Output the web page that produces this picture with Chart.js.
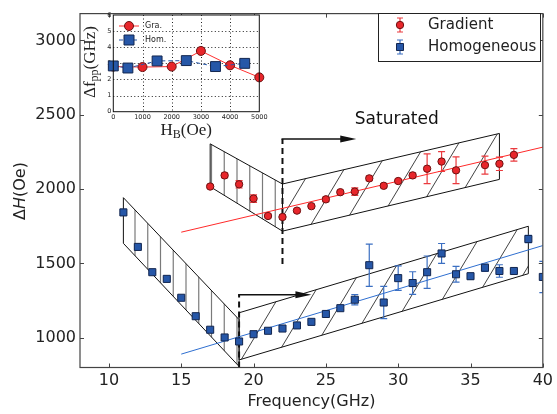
<!DOCTYPE html>
<html>
<head>
<meta charset="utf-8">
<script src="https://cdn.jsdelivr.net/npm/chart.js@4.4.0/dist/chart.umd.min.js"></script>
<style>
  body { margin: 0; background: #fff; }
  #wrap { position: relative; width: 557px; height: 414px; }
  #wrap canvas { position: absolute; left: 0; top: 0; }
</style>
</head>
<body>
<div id="wrap">
  <canvas id="mainChart" width="557" height="414"></canvas>
  <canvas id="insetChart" width="270" height="145"></canvas>
</div>
<script>
// ---- main chart data ----
const gradFreq = [17, 18, 19, 20, 21, 22, 23, 24, 25, 26, 27, 28, 29, 30, 31, 32, 33, 34, 36, 37, 38];
const gradDH   = [2017, 2092, 2032, 1936, 1819, 1812, 1855, 1885, 1931, 1979, 1983, 2072, 2022, 2054, 2092, 2137, 2185, 2126, 2161, 2170, 2230];
const gradErr  = [10, 15, 25, 25, 12, 15, 10, 12, 15, 12, 25, 15, 12, 12, 15, 100, 67, 90, 60, 45, 42];

const homFreq = [11, 12, 13, 14, 15, 16, 17, 18, 19, 20, 21, 22, 23, 24, 25, 26, 27, 28, 29, 30, 31, 32, 33, 34, 35, 36, 37, 38, 39, 40];
const homDH   = [1843, 1611, 1441, 1396, 1269, 1145, 1054, 1002, 975, 1024, 1047, 1062, 1083, 1107, 1160, 1199, 1256, 1488, 1237, 1401, 1368, 1441, 1567, 1427, 1414, 1471, 1449, 1449, 1664, 1409];
const homErr  = [8, 8, 8, 8, 8, 8, 8, 8, 8, 8, 8, 8, 8, 8, 15, 10, 35, 142, 108, 82, 76, 109, 67, 53, 20, 25, 42, 10, 25, 105];

// linear fits
const gradFitX = [15, 40];
const gradFitY = [1710, 2282];
const homFitX = [15, 40];
const homFitY = [890, 1620];

// hatched regions (freq, dH)
const gradPreRegion = [[17, 2304], [22, 2034], [22, 1717], [17, 2016]];
const gradSatRegion = [[22, 2034], [37, 2374], [37, 2065], [22, 1717]];
const homPreRegion  = [[11, 1942], [19, 1122], [19, 807], [11, 1635]];
const homSatRegion  = [[19, 1168], [39, 1750], [39, 1431], [19, 851]];

// saturation markers: dashed line at satX, arrow to satArrowEnd
const satX = [22, 19];
const satLow = [1496, 800];
const satHigh = [2336, 1289];
const satArrowEnd = [27.1, 24];
const satLabel = 'Saturated';
const satLabelPos = [27, 2435];

const xTicks = [10, 15, 20, 25, 30, 35, 40];
const yTicks = [1000, 1500, 2000, 2500, 3000];

// ---- inset data ----
const insetGraX = [0, 1000, 2000, 3000, 4000, 5000];
const insetGraY = [2.8, 2.77, 2.8, 3.77, 2.88, 2.13];
const insetHomX = [0, 500, 1500, 2500, 3500, 4500];
const insetHomY = [2.84, 2.71, 3.15, 3.17, 2.8, 3.0];
const insetXTicks = [0, 1000, 2000, 3000, 4000, 5000];
const insetYTicks = [0, 1, 2, 3, 4, 5, 6];

const RED = '#e8262b';
const RED_EDGE = '#6e1212';
const RED_BAR = '#ea3a3e';
const BLUE = '#2657a8';
const BLUE_EDGE = '#13264f';
const BLUE_BAR = '#3b6fc2';
const TXT = '#222';

Chart.defaults.font.family = 'DejaVu Sans';
Chart.defaults.color = TXT;

function toPts(xs, ys) {
    return xs.map((v, i) => ({ x: v, y: ys[i] }));
}

function polyPath(ctx, pts) {
    ctx.beginPath();
    pts.forEach((p, i) => i ? ctx.lineTo(p[0], p[1]) : ctx.moveTo(p[0], p[1]));
    ctx.closePath();
}

function drawRegion(ctx, pts, hatch) {
    ctx.save();
    polyPath(ctx, pts);
    ctx.clip();
    const xs = pts.map(p => p[0]), ys = pts.map(p => p[1]);
    const x0 = Math.min(...xs), x1 = Math.max(...xs);
    const y0 = Math.min(...ys), y1 = Math.max(...ys);
    ctx.beginPath();
    if (hatch === 'vertical') {
        ctx.strokeStyle = '#7a7a7a';
        ctx.lineWidth = 1.2;
        for (let hx = Math.floor(x0 / 12.75) * 12.75 + 7.5; hx <= x1; hx += 12.75) {
            ctx.moveTo(hx, y0);
            ctx.lineTo(hx, y1);
        }
    } else {
        ctx.strokeStyle = '#111';
        ctx.lineWidth = 0.8;
        const k = 0.6, h = y1 - y0;
        for (let c = Math.floor((x0 - h * k) / 33) * 33 + 10; c <= x1; c += 33) {
            ctx.moveTo(c, y1);
            ctx.lineTo(c + h * k, y0);
        }
    }
    ctx.stroke();
    ctx.restore();
    ctx.save();
    polyPath(ctx, pts);
    ctx.strokeStyle = '#111';
    ctx.lineWidth = 1;
    ctx.stroke();
    ctx.restore();
}

function drawErrBars(ctx, px, py, xs, ys, errs, color) {
    ctx.save();
    ctx.strokeStyle = color;
    ctx.lineWidth = 1.2;
    xs.forEach((v, i) => {
        const x = px(v), yt = py(ys[i] + errs[i]), yb = py(ys[i] - errs[i]);
        ctx.beginPath();
        ctx.moveTo(x, yt); ctx.lineTo(x, yb);
        ctx.moveTo(x - 3.5, yt); ctx.lineTo(x + 3.5, yt);
        ctx.moveTo(x - 3.5, yb); ctx.lineTo(x + 3.5, yb);
        ctx.stroke();
    });
    ctx.restore();
}

const mainDecor = {
    id: 'mainDecor',
    beforeDatasetsDraw(chart) {
        const { ctx, chartArea: a, scales } = chart;
        const px = v => scales.x.getPixelForValue(v);
        const py = v => scales.y.getPixelForValue(v);
        const conv = r => r.map(p => [px(p[0]), py(p[1])]);
        ctx.save();
        ctx.beginPath();
        ctx.rect(a.left, a.top, a.right - a.left, a.bottom - a.top);
        ctx.clip();

        drawRegion(ctx, conv(gradPreRegion), 'vertical');
        drawRegion(ctx, conv(gradSatRegion), 'diagonal');
        drawRegion(ctx, conv(homPreRegion), 'vertical');
        drawRegion(ctx, conv(homSatRegion), 'diagonal');

        // dashed markers + arrows
        satX.forEach((v, i) => {
            const x = px(v), yl = py(satLow[i]), yh = py(satHigh[i]);
            ctx.save();
            ctx.strokeStyle = '#111';
            ctx.lineWidth = 2;
            ctx.setLineDash([6, 4]);
            ctx.beginPath();
            ctx.moveTo(x, yl); ctx.lineTo(x, yh);
            ctx.stroke();
            ctx.setLineDash([]);
            const xe = px(satArrowEnd[i]);
            ctx.lineWidth = 1.5;
            ctx.beginPath();
            ctx.moveTo(x - 1, yh); ctx.lineTo(xe - 10, yh);
            ctx.stroke();
            ctx.fillStyle = '#111';
            ctx.beginPath();
            ctx.moveTo(xe, yh); ctx.lineTo(xe - 16, yh - 3.5); ctx.lineTo(xe - 16, yh + 3.5);
            ctx.closePath();
            ctx.fill();
            ctx.restore();
        });

        drawErrBars(ctx, px, py, gradFreq, gradDH, gradErr, RED_BAR);
        drawErrBars(ctx, px, py, homFreq, homDH, homErr, BLUE_BAR);
        ctx.restore();
    },
    afterDraw(chart) {
        const { ctx, chartArea: a, scales } = chart;
        const px = v => scales.x.getPixelForValue(v);
        const py = v => scales.y.getPixelForValue(v);
        ctx.save();
        // frame
        ctx.strokeStyle = '#444';
        ctx.lineWidth = 1.2;
        ctx.strokeRect(a.left, a.top, a.right - a.left, a.bottom - a.top);
        // inward ticks on all sides
        ctx.lineWidth = 1;
        ctx.beginPath();
        xTicks.forEach(v => {
            const x = Math.round(px(v)) + 0.5;
            ctx.moveTo(x, a.bottom); ctx.lineTo(x, a.bottom - 4);
            ctx.moveTo(x, a.top); ctx.lineTo(x, a.top + 4);
        });
        yTicks.forEach(v => {
            const y = Math.round(py(v)) + 0.5;
            ctx.moveTo(a.left, y); ctx.lineTo(a.left + 4, y);
            ctx.moveTo(a.right, y); ctx.lineTo(a.right - 4, y);
        });
        ctx.stroke();

        // Saturated label
        ctx.fillStyle = '#111';
        ctx.font = '17px "DejaVu Sans"';
        ctx.textAlign = 'left';
        ctx.textBaseline = 'alphabetic';
        ctx.fillText(satLabel, px(satLabelPos[0]), py(satLabelPos[1]));

        // axis titles
        ctx.fillStyle = TXT;
        ctx.font = '16px "DejaVu Sans"';
        ctx.textAlign = 'center';
        ctx.textBaseline = 'middle';
        ctx.fillText('Frequency(GHz)', (a.left + a.right) / 2, 402);

        ctx.save();
        ctx.translate(21, 191);
        ctx.rotate(-Math.PI / 2);
        const parts = [['Δ', '16px "DejaVu Sans"'], ['H', 'italic 16px "DejaVu Sans"'], ['(Oe)', '16px "DejaVu Sans"']];
        let total = 0;
        parts.forEach(p => { ctx.font = p[1]; total += ctx.measureText(p[0]).width; });
        let cx = -total / 2;
        ctx.textAlign = 'left';
        parts.forEach(p => { ctx.font = p[1]; ctx.fillText(p[0], cx, 0); cx += ctx.measureText(p[0]).width; });
        ctx.restore();

        // legend
        const lx = 378.5, ly = 13.5, lw = 162, lh = 48;
        ctx.fillStyle = '#fff';
        ctx.fillRect(lx, ly, lw, lh);
        ctx.strokeStyle = '#222';
        ctx.lineWidth = 1;
        ctx.strokeRect(lx, ly, lw, lh);
        const entries = [
            { label: 'Gradient', y: 25, bar: RED_BAR, fill: RED, edge: RED_EDGE, shape: 'circle' },
            { label: 'Homogeneous', y: 47, bar: BLUE_BAR, fill: BLUE, edge: BLUE_EDGE, shape: 'rect' }
        ];
        entries.forEach(e => {
            const mx = 400;
            ctx.strokeStyle = e.bar;
            ctx.lineWidth = 1.2;
            ctx.beginPath();
            ctx.moveTo(mx, e.y - 7); ctx.lineTo(mx, e.y + 7);
            ctx.moveTo(mx - 3, e.y - 7); ctx.lineTo(mx + 3, e.y - 7);
            ctx.moveTo(mx - 3, e.y + 7); ctx.lineTo(mx + 3, e.y + 7);
            ctx.stroke();
            ctx.fillStyle = e.fill;
            ctx.strokeStyle = e.edge;
            ctx.lineWidth = 1;
            ctx.beginPath();
            if (e.shape === 'circle') ctx.arc(mx, e.y, 3.7, 0, Math.PI * 2);
            else ctx.rect(mx - 3.5, e.y - 3.5, 7, 7);
            ctx.fill();
            ctx.stroke();
            ctx.fillStyle = TXT;
            ctx.font = '15px "DejaVu Sans"';
            ctx.textAlign = 'left';
            ctx.textBaseline = 'middle';
            ctx.fillText(e.label, 428, e.y);
        });
        ctx.restore();
    }
};

new Chart(document.getElementById('mainChart'), {
    type: 'scatter',
    data: {
        datasets: [
            {
                label: 'Gradient',
                data: toPts(gradFreq, gradDH),
                pointStyle: 'circle',
                pointRadius: 3.7,
                backgroundColor: RED,
                borderColor: RED_EDGE,
                borderWidth: 1
            },
            {
                label: 'Homogeneous',
                data: toPts(homFreq, homDH),
                pointStyle: 'rect',
                pointRadius: 5,
                backgroundColor: BLUE,
                borderColor: BLUE_EDGE,
                borderWidth: 1
            },
            {
                label: 'Gradient fit',
                data: toPts(gradFitX, gradFitY),
                showLine: true,
                pointRadius: 0,
                borderColor: '#ff2a2a',
                borderWidth: 1
            },
            {
                label: 'Homogeneous fit',
                data: toPts(homFitX, homFitY),
                showLine: true,
                pointRadius: 0,
                borderColor: '#2f6fd0',
                borderWidth: 1
            }
        ]
    },
    options: {
        responsive: false,
        animation: false,
        devicePixelRatio: 1,
        layout: { padding: { left: 0, right: 10, top: 6, bottom: 0 } },
        plugins: { legend: { display: false }, tooltip: { enabled: false } },
        scales: {
            x: {
                type: 'linear',
                min: 8,
                max: 40,
                afterBuildTicks: s => { s.ticks = xTicks.map(v => ({ value: v })); },
                afterFit: s => { s.height = 46.5; },
                grid: { display: false, drawTicks: false },
                border: { display: false },
                ticks: { font: { size: 16 }, color: TXT, padding: 4, maxRotation: 0, callback: v => String(v) }
            },
            y: {
                type: 'linear',
                min: 800,
                max: 3180,
                afterBuildTicks: s => { s.ticks = yTicks.map(v => ({ value: v })); },
                afterFit: s => { s.width = 80; },
                grid: { display: false, drawTicks: false },
                border: { display: false },
                ticks: { font: { size: 16 }, color: TXT, padding: 4, callback: v => String(v) }
            }
        }
    },
    plugins: [mainDecor]
});

// ---- inset ----
const insetDecor = {
    id: 'insetDecor',
    beforeDraw(chart) {
        const { ctx, chartArea: a } = chart;
        ctx.save();
        ctx.fillStyle = '#fff';
        ctx.fillRect(a.left, a.top, a.right - a.left, a.bottom - a.top);
        ctx.restore();
    },
    beforeDatasetsDraw(chart) {
        const { ctx, chartArea: a, scales } = chart;
        ctx.save();
        ctx.strokeStyle = '#222';
        ctx.lineWidth = 1;
        ctx.setLineDash([1, 2.5]);
        ctx.beginPath();
        insetXTicks.slice(1, -1).forEach(v => {
            const x = Math.round(scales.x.getPixelForValue(v)) + 0.5;
            ctx.moveTo(x, a.top); ctx.lineTo(x, a.bottom);
        });
        insetYTicks.slice(1, -1).forEach(v => {
            const y = Math.round(scales.y.getPixelForValue(v)) + 0.5;
            ctx.moveTo(a.left, y); ctx.lineTo(a.right, y);
        });
        ctx.stroke();
        ctx.restore();
    },
    afterDraw(chart) {
        const { ctx, chartArea: a } = chart;
        ctx.save();
        ctx.strokeStyle = '#111';
        ctx.lineWidth = 1;
        ctx.strokeRect(a.left, a.top, a.right - a.left, a.bottom - a.top);

        // legend
        const rows = [
            { label: 'Gra.', y: 26, color: RED, edge: RED_EDGE, dash: [], shape: 'circle' },
            { label: 'Hom.', y: 40, color: BLUE, edge: BLUE_EDGE, dash: [4, 3], shape: 'rect' }
        ];
        rows.forEach(r => {
            ctx.strokeStyle = r.shape === 'circle' ? '#ff3030' : BLUE;
            ctx.lineWidth = 1;
            ctx.setLineDash(r.dash);
            ctx.beginPath();
            ctx.moveTo(119, r.y); ctx.lineTo(139, r.y);
            ctx.stroke();
            ctx.setLineDash([]);
            ctx.fillStyle = r.color;
            ctx.strokeStyle = r.edge;
            ctx.beginPath();
            if (r.shape === 'circle') ctx.arc(129, r.y, 4.5, 0, Math.PI * 2);
            else ctx.rect(124, r.y - 5, 10, 10);
            ctx.fill();
            ctx.stroke();
            ctx.fillStyle = TXT;
            ctx.font = '8px "DejaVu Sans"';
            ctx.textAlign = 'left';
            ctx.textBaseline = 'middle';
            ctx.fillText(r.label, 145, r.y);
        });

        // axis labels (serif, with subscripts)
        const big = '17px "Liberation Serif"', small = '12px "Liberation Serif"';
        function rich(parts, cx, cy) {
            let total = 0;
            parts.forEach(p => { ctx.font = p[1]; total += ctx.measureText(p[0]).width; });
            let x = cx - total / 2;
            parts.forEach(p => {
                ctx.font = p[1];
                ctx.fillText(p[0], x, cy + p[2]);
                x += ctx.measureText(p[0]).width;
            });
        }
        ctx.fillStyle = TXT;
        ctx.textAlign = 'left';
        ctx.textBaseline = 'middle';
        rich([['H', big, 0], ['B', small, 4], ['(Oe)', big, 0]], (a.left + a.right) / 2, 131);

        ctx.save();
        ctx.translate(91, 62);
        ctx.rotate(-Math.PI / 2);
        rich([['Δf', big, 0], ['pp', small, 4], ['(GHz)', big, 0]], 0, 0);
        ctx.restore();
        ctx.restore();
    }
};

new Chart(document.getElementById('insetChart'), {
    type: 'scatter',
    data: {
        datasets: [
            {
                label: 'Hom.',
                data: toPts(insetHomX, insetHomY),
                showLine: true,
                borderDash: [4, 3],
                borderColor: BLUE,
                borderWidth: 1,
                pointStyle: 'rect',
                pointRadius: 7,
                pointBackgroundColor: BLUE,
                pointBorderColor: BLUE_EDGE,
                pointBorderWidth: 1
            },
            {
                label: 'Gra.',
                data: toPts(insetGraX, insetGraY),
                showLine: true,
                borderColor: '#ff3030',
                borderWidth: 1,
                pointStyle: 'circle',
                pointRadius: 4.5,
                pointBackgroundColor: RED,
                pointBorderColor: RED_EDGE,
                pointBorderWidth: 1
            }
        ]
    },
    options: {
        responsive: false,
        animation: false,
        devicePixelRatio: 1,
        clip: false,
        layout: { padding: { left: 0, right: 10.7, top: 15, bottom: 0 } },
        plugins: { legend: { display: false }, tooltip: { enabled: false } },
        scales: {
            x: {
                type: 'linear',
                min: 0,
                max: 5000,
                afterBuildTicks: s => { s.ticks = insetXTicks.map(v => ({ value: v })); },
                afterFit: s => { s.height = 33.3; },
                grid: { display: false, drawTicks: false },
                border: { display: false },
                ticks: { font: { size: 6.5 }, color: TXT, padding: 2, maxRotation: 0, callback: v => String(v) }
            },
            y: {
                type: 'linear',
                min: 0,
                max: 6,
                afterBuildTicks: s => { s.ticks = insetYTicks.map(v => ({ value: v })); },
                afterFit: s => { s.width = 113.3; },
                grid: { display: false, drawTicks: false },
                border: { display: false },
                ticks: { font: { size: 6.5 }, color: TXT, padding: 2, callback: v => String(v) }
            }
        }
    },
    plugins: [insetDecor]
});
</script>
</body>
</html>
